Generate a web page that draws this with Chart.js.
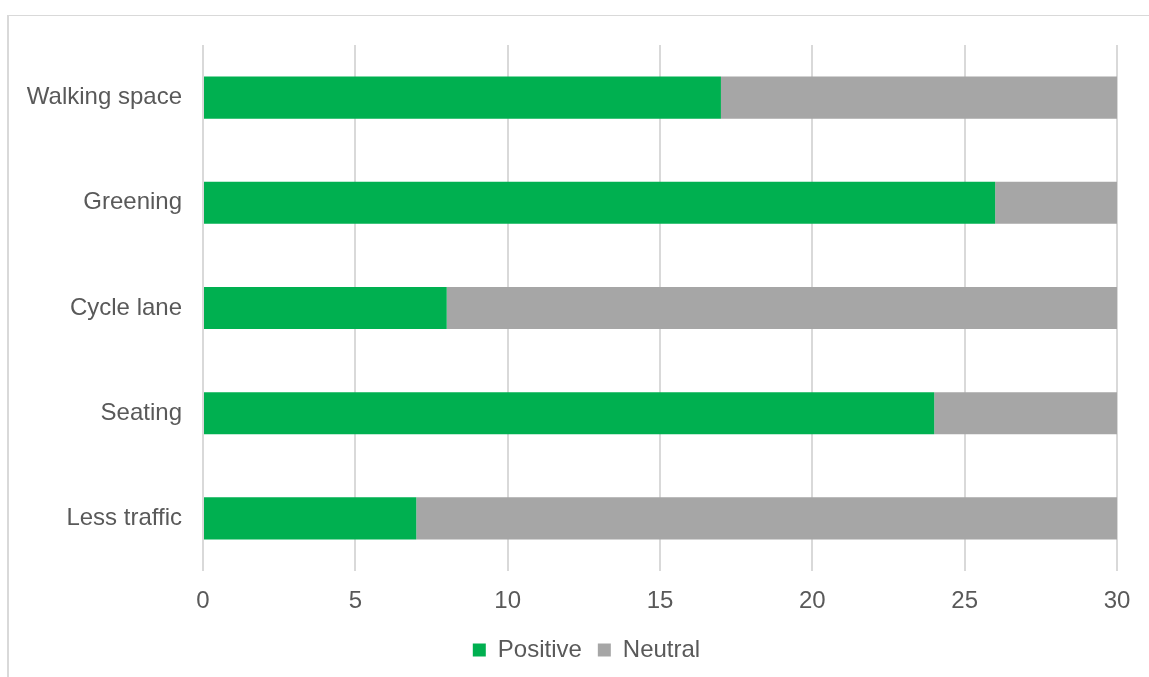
<!DOCTYPE html>
<html>
<head>
<meta charset="utf-8">
<title>Street changes</title>
<script src="https://cdn.jsdelivr.net/npm/chart.js@4"></script>
<style>
  html, body { margin: 0; padding: 0; background: #fff; }
  .frame {
    position: absolute; left: 7px; top: 15px; width: 1200px; height: 700px;
    border-left: 2px solid #d9d9d9; border-top: 1px solid #d9d9d9;
  }
  .chart-box { position: absolute; left: 0; top: 0; width: 1149px; height: 677px; }
</style>
</head>
<body>
<div class="frame"></div>
<div class="chart-box"><canvas id="streetChart"></canvas></div>
<script>
// Data
const categories = ['Walking space', 'Greening', 'Cycle lane', 'Seating', 'Less traffic'];
const positive = [17, 26, 8, 24, 7];
const neutral = [13, 4, 22, 6, 23];
const xTicks = [0, 5, 10, 15, 20, 25, 30];

const textColor = '#595959';
const font = { family: "'Liberation Sans', Arial, sans-serif", size: 24 };

// nudge the legend a little right of the canvas centre, like the original
const legendShift = {
    id: 'legendShift',
    afterLayout(chart) {
        if (chart.legend) chart.legend.left += 56;
    }
};

document.addEventListener('DOMContentLoaded', () => {
    const ctx = document.getElementById('streetChart').getContext('2d');
    new Chart(ctx, {
        type: 'bar',
        data: {
          labels: categories,
          datasets: [
            {
              label: 'Positive',
              data: positive,
              backgroundColor: '#00b050',
              borderWidth: 0,
              categoryPercentage: 0.8,
              barPercentage: 0.5
            },
            {
              label: 'Neutral',
              data: neutral,
              backgroundColor: '#a6a6a6',
              borderWidth: 0,
              categoryPercentage: 0.8,
              barPercentage: 0.5
            }
          ]
        },
        plugins: [legendShift],
        options: {
          indexAxis: 'y',
          responsive: true,
          maintainAspectRatio: false,
          animation: false,
          layout: { padding: { top: 45, right: 32, bottom: 5, left: 0 } },
          plugins: {
            tooltip: { enabled: false },
            legend: {
              position: 'bottom',
              labels: {
                color: textColor,
                font: font,
                boxWidth: 13,
                boxHeight: 13,
                padding: 16
              }
            }
          },
          scales: {
            x: {
              stacked: true,
              min: 0,
              max: 30,
              afterBuildTicks: scale => { scale.ticks = xTicks.map(v => ({ value: v })); },
              afterFit: scale => { scale.height = 51; },
              grid: { color: '#d9d9d9', lineWidth: 2, drawTicks: false },
              border: { display: false },
              ticks: { color: textColor, font: font, padding: 16 }
            },
            y: {
              stacked: true,
              afterFit: scale => { scale.width = 203; },
              grid: { display: false, drawTicks: false },
              border: { display: false },
              ticks: { color: textColor, font: font, padding: 21 }
            }
          }
        }
    });
});
</script>
</body>
</html>
